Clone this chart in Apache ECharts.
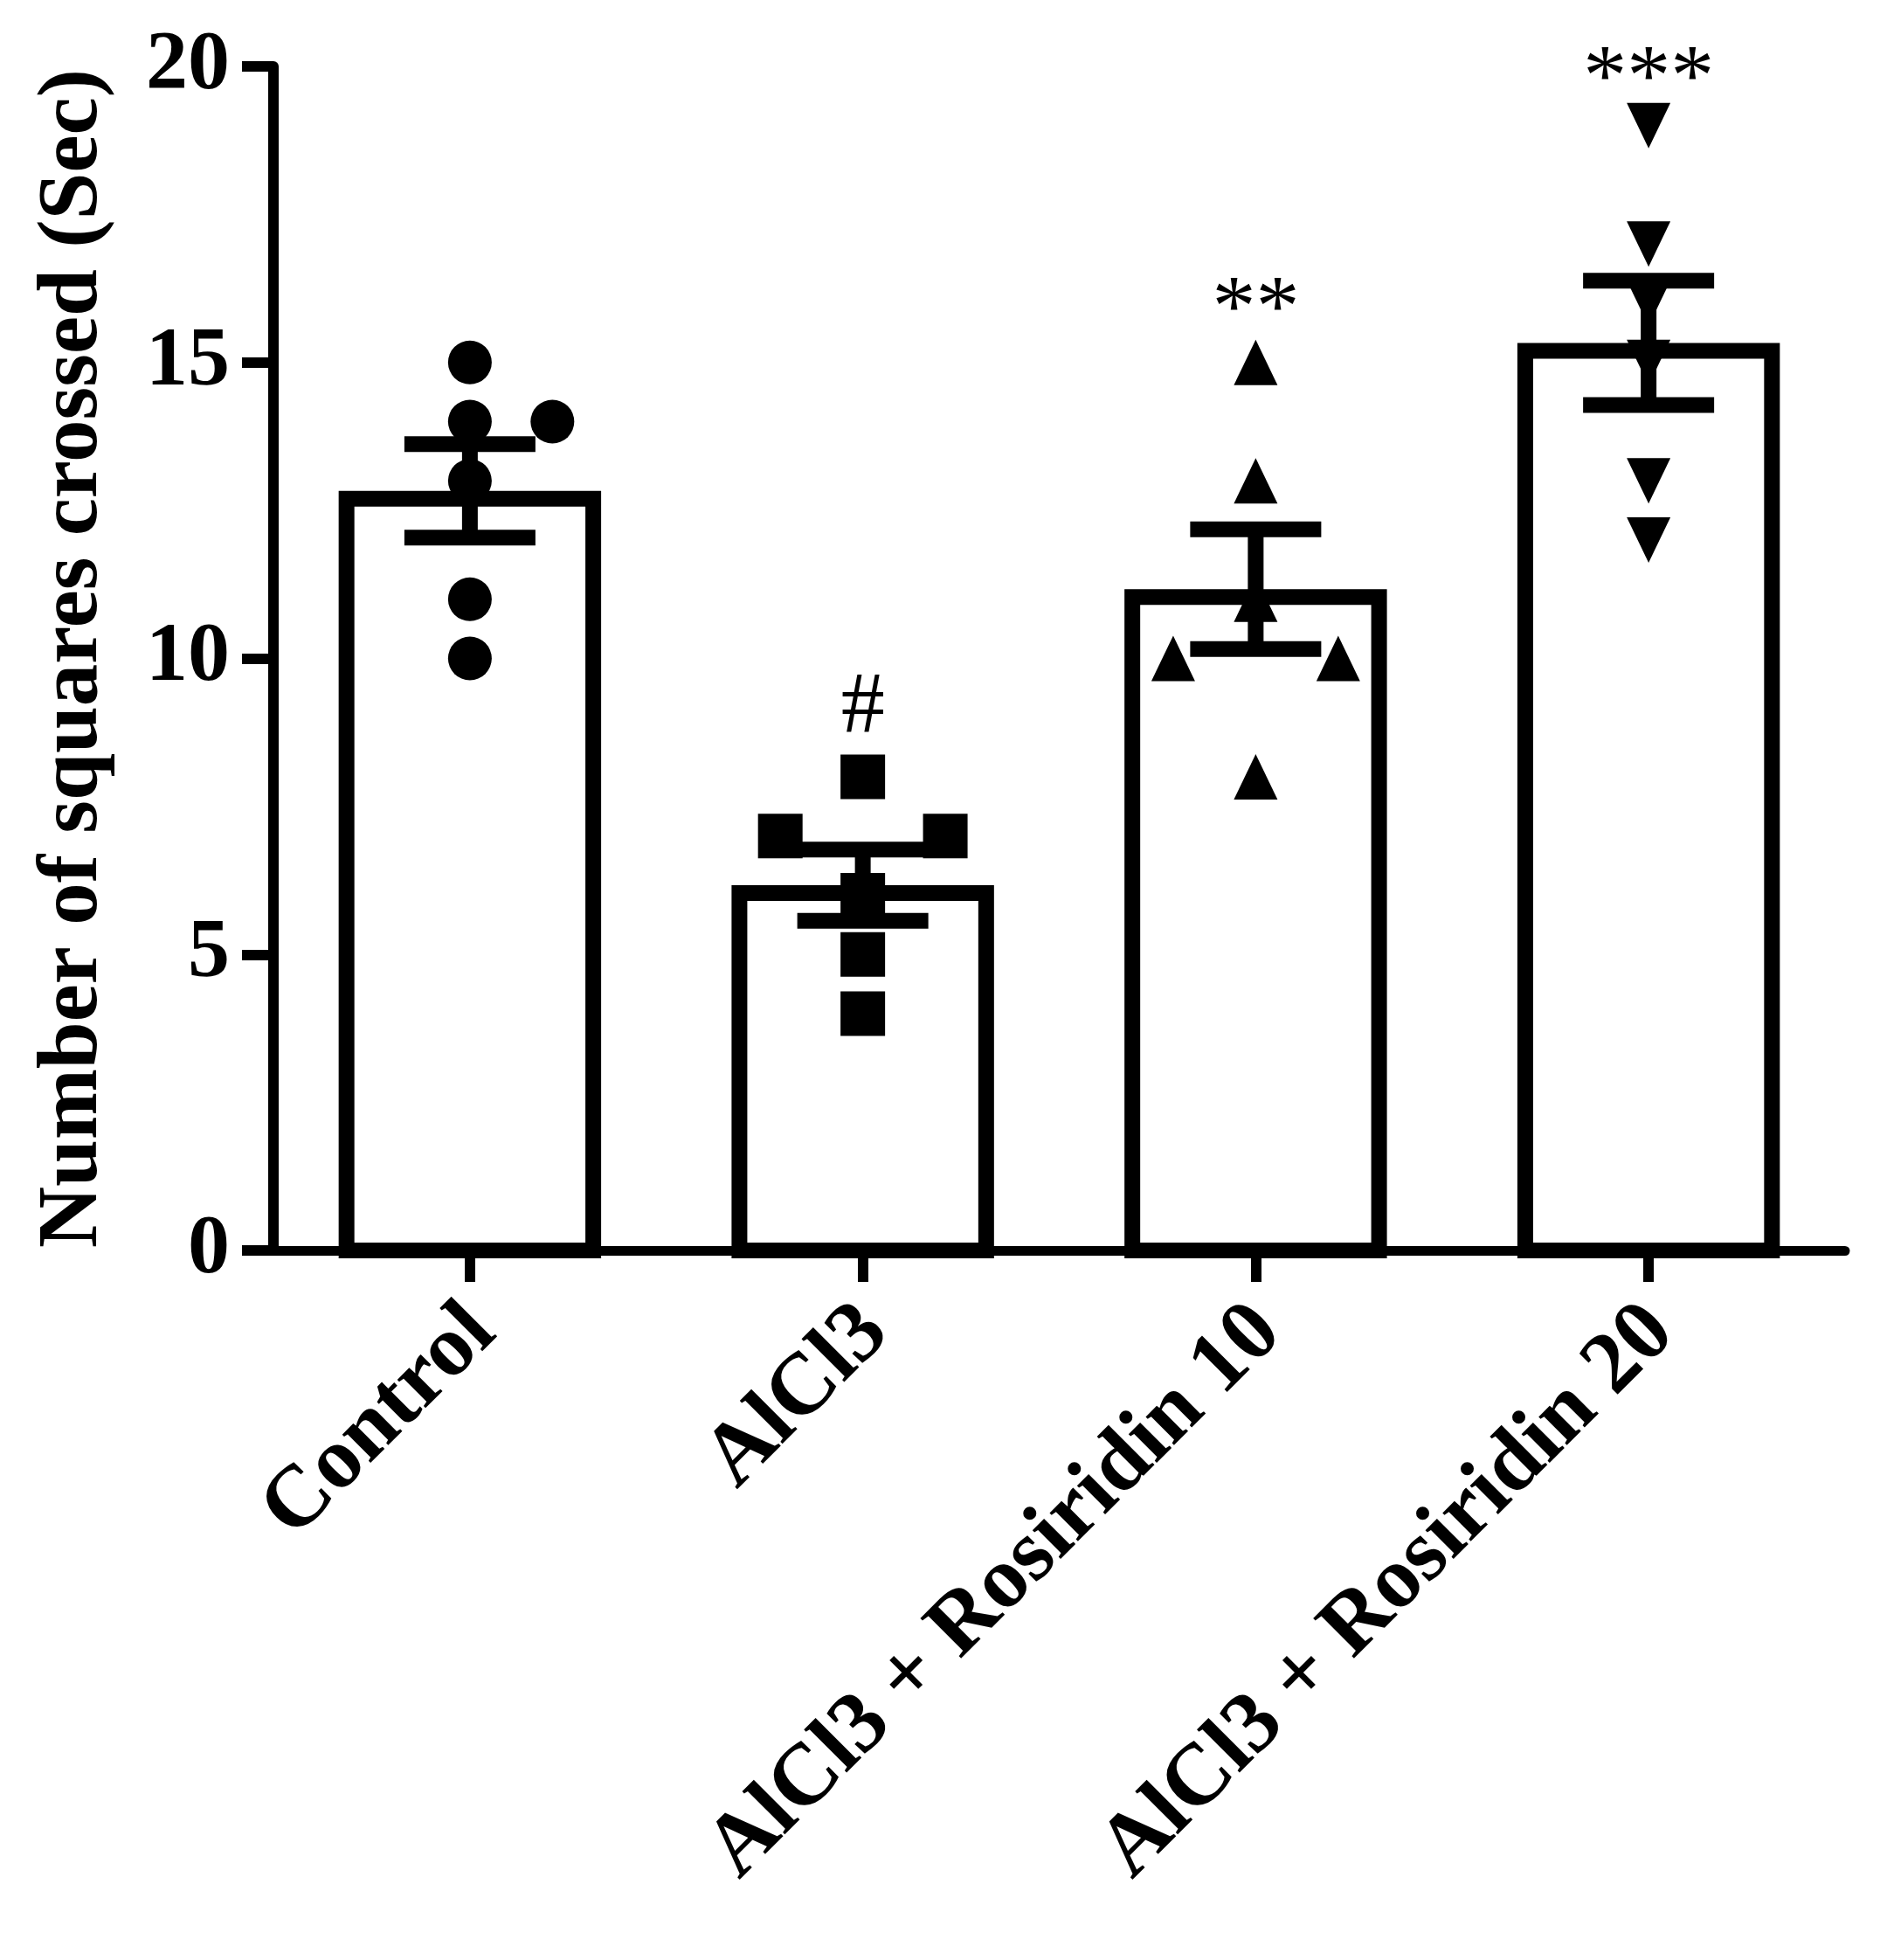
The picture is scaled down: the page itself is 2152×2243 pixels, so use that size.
<!DOCTYPE html>
<html>
<head>
<meta charset="utf-8">
<title>Number of squares crossed</title>
<script src="https://cdn.jsdelivr.net/npm/echarts@6/dist/echarts.min.js"></script>
<style>
html, body { margin: 0; padding: 0; background: #fff; }
#chart { width: 2152px; height: 2243px; }
</style>
</head>
<body>
<div id="chart"></div>
<script>
var chart = echarts.init(document.getElementById('chart'));

// groups on the x axis
var categories = ['Control', 'AlCl3', 'AlCl3 + Rosiridin 10', 'AlCl3 + Rosiridin 20'];
// individual animals
var controlPts = [15, 14, 14, 13, 11, 10];
var alcl3Pts = [8, 7, 7, 6, 5, 4];
var ros10Pts = [15, 13, 11, 10, 10, 8];
var ros20Pts = [19, 17, 16, 15, 13, 12];
// mean and SEM per group
var means = [12.83, 6.17, 11.17, 15.33];
var sems = [0.79, 0.60, 1.01, 1.05];
// significance marks and where they sit
var sigMarks = ['', '#', '**', '***'];
var sigLevel = [null, 9.15, 15.85, 19.75];

var FONT = '"Liberation Serif", "Times New Roman", serif';
var LINE = 18;

// sideways spread of equal values (category units)
var spread = [
    [0, 0, 0.21, 0, 0, 0],
    [0, -0.21, 0.21, 0, 0, 0],
    [0, 0, 0, -0.21, 0.21, 0],
    [0, 0, 0, 0, 0, 0]
];
var groups = [controlPts, alcl3Pts, ros10Pts, ros20Pts];
var shapes = ['circle', 'rect', 'triangle', 'triangle'];
var sizes = [50, 51, [50, 52], [50, 52]];
var turns = [0, 0, 0, 180];

function pointSeries(g) {
    return {
        type: 'scatter',
        xAxisIndex: 1,
        symbol: shapes[g],
        symbolSize: sizes[g],
        symbolRotate: turns[g],
        itemStyle: { color: '#000', opacity: 1 },
        z: 5,
        silent: true,
        data: groups[g].map(function (v, k) { return [g + spread[g][k], v]; })
    };
}

// bars drawn with the border inside the value, like the original
function renderBar(params, api) {
    var top = api.coord([api.value(0), api.value(1)]);
    var base = api.coord([api.value(0), 0]);
    var w = api.size([1, 0])[0] * 0.668;
    var h = LINE / 2;
    return {
        type: 'rect',
        shape: { x: top[0] - w / 2 + h, y: top[1] + h, width: w - LINE, height: base[1] - top[1] - h },
        style: { fill: '#fff', stroke: '#000', lineWidth: LINE }
    };
}

function renderErr(params, api) {
    var x = api.value(0), m = api.value(1), e = api.value(2);
    var hi = api.coord([x, m + e]);
    var lo = api.coord([x, m - e]);
    var cap = 75;
    var st = { stroke: '#000', lineWidth: LINE };
    return {
        type: 'group',
        children: [
            { type: 'line', shape: { x1: hi[0], y1: hi[1], x2: lo[0], y2: lo[1] }, style: st },
            { type: 'line', shape: { x1: hi[0] - cap, y1: hi[1], x2: hi[0] + cap, y2: hi[1] }, style: st },
            { type: 'line', shape: { x1: lo[0] - cap, y1: lo[1], x2: lo[0] + cap, y2: lo[1] }, style: st }
        ]
    };
}

var series = [
    {
        type: 'custom',
        xAxisIndex: 0,
        renderItem: renderBar,
        z: 2,
        silent: true,
        data: means.map(function (m, i) { return [i, m]; })
    }
];
for (var g = 0; g < groups.length; g++) series.push(pointSeries(g));
series.push({
    type: 'custom',
    xAxisIndex: 0,
    renderItem: renderErr,
    z: 6,
    silent: true,
    data: means.map(function (m, i) { return [i, m, sems[i]]; })
});
series.push({
    type: 'scatter',
    xAxisIndex: 0,
    symbolSize: 1,
    itemStyle: { color: 'rgba(0,0,0,0)', opacity: 1 },
    z: 7,
    silent: true,
    label: {
        show: true,
        position: 'inside',
        formatter: function (p) { return sigMarks[p.dataIndex]; },
        color: '#000',
        opacity: 1,
        fontFamily: FONT,
        fontSize: 100,
        fontWeight: 'normal'
    },
    data: sigLevel.map(function (v, i) { return [i, v == null ? '-' : v]; })
});

var option = {
    backgroundColor: '#fff',
    animation: false,
    grid: { left: 313, right: 40, top: 76, bottom: 812, containLabel: false },
    xAxis: [
        {
            type: 'category',
            data: categories,
            axisLine: { show: true, lineStyle: { color: '#000', width: 11 } },
            axisTick: { show: true, alignWithLabel: true, length: 36, lineStyle: { color: '#000', width: 12 } },
            axisLabel: {
                rotate: 45,
                margin: 93,
                padding: [0, -20, 0, 0],
                color: '#000',
                fontFamily: FONT,
                fontSize: 100,
                fontWeight: 'bold'
            },
            splitLine: { show: false }
        },
        {
            type: 'value',
            min: -0.5,
            max: 3.5,
            show: false
        }
    ],
    yAxis: {
        type: 'value',
        min: 0,
        max: 20,
        interval: 5,
        name: 'Number of squares crossed (Sec)',
        nameLocation: 'middle',
        nameGap: 180,
        nameTextStyle: { color: '#000', fontFamily: FONT, fontSize: 97, fontWeight: 'bold' },
        axisLine: { show: true, onZero: false, lineStyle: { color: '#000', width: 12 } },
        axisTick: { show: true, length: 36, lineStyle: { color: '#000', width: 12 } },
        axisLabel: { margin: 50, color: '#000', fontFamily: FONT, fontSize: 96, fontWeight: 'bold' },
        splitLine: { show: false }
    },
    series: series
};
chart.setOption(option);
</script>
</body>
</html>
